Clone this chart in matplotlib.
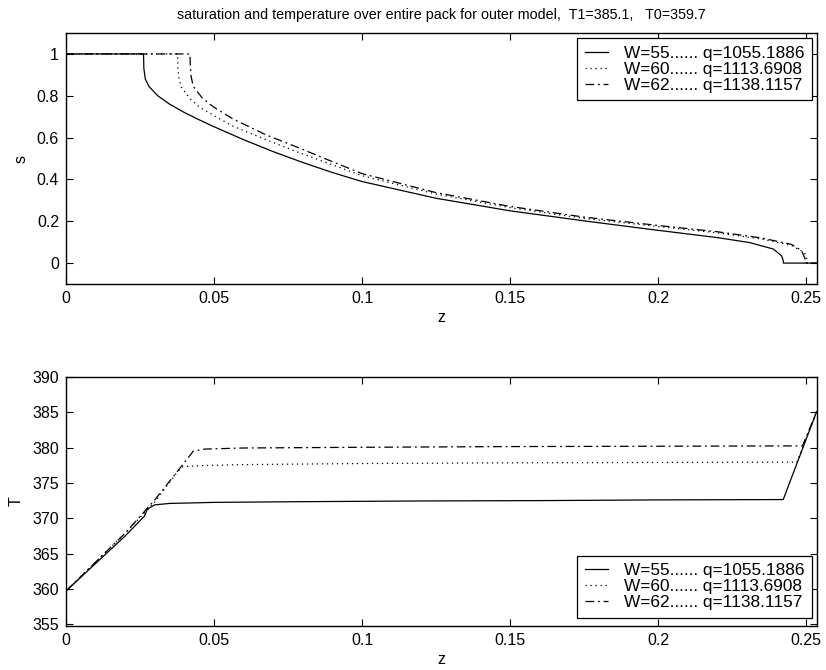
import numpy as np
import matplotlib
matplotlib.use('Agg')
import matplotlib.pyplot as plt

plt.rcParams['font.family'] = ['Liberation Sans', 'DejaVu Sans']
plt.rcParams['font.size'] = 11.5

labels = ['W=55...... q=1055.1886', 'W=60...... q=1113.6908', 'W=62...... q=1138.1157']
title = 'saturation and temperature over entire pack for outer model,  T1=385.1,   T0=359.7'

# saturation s(z)
z_s55 = [0, 0.0262, 0.0263, 0.0268, 0.028, 0.031, 0.035, 0.04, 0.045, 0.05, 0.06, 0.07, 0.08, 0.09, 0.1,
         0.125, 0.15, 0.175, 0.197, 0.22, 0.231, 0.239, 0.2418, 0.2423, 0.2424, 0.2536]
s55 = [1, 1, 0.93, 0.88, 0.845, 0.80, 0.76, 0.72, 0.685, 0.652, 0.59, 0.533, 0.481, 0.433, 0.39,
       0.31, 0.25, 0.202, 0.162, 0.122, 0.098, 0.067, 0.034, 0.012, 0, 0]

z_s60 = [0, 0.0377, 0.0378, 0.0382, 0.039, 0.042, 0.0451, 0.05, 0.0563, 0.0676, 0.0778, 0.09, 0.1, 0.125, 0.15,
         0.175, 0.2, 0.22, 0.235, 0.245, 0.2495, 0.2503, 0.2504, 0.2536]
s60 = [1, 1, 0.93, 0.88, 0.84, 0.785, 0.746, 0.705, 0.655, 0.59, 0.533, 0.47, 0.418, 0.33, 0.265,
       0.214, 0.175, 0.145, 0.115, 0.085, 0.05, 0.02, 0, 0]

z_s62 = [0, 0.0419, 0.042, 0.0423, 0.043, 0.0461, 0.05, 0.0563, 0.0676, 0.0778, 0.09, 0.1, 0.125, 0.15,
         0.175, 0.2, 0.22, 0.235, 0.245, 0.2485, 0.2497, 0.2498, 0.2536]
s62 = [1, 1, 0.94, 0.89, 0.845, 0.788, 0.745, 0.69, 0.613, 0.556, 0.485, 0.428, 0.337, 0.271,
       0.22, 0.18, 0.15, 0.12, 0.09, 0.06, 0.02, 0, 0]

# temperature T(z)
z_T55 = [0, 0.01, 0.02, 0.0265, 0.0275, 0.03, 0.035, 0.05, 0.08, 0.12, 0.16, 0.2, 0.2423, 0.2536]
T55 = [359.7, 363.6, 367.5, 370.3, 371.3, 371.9, 372.1, 372.25, 372.35, 372.45, 372.5, 372.6, 372.65, 385.1]

z_T60 = [0, 0.01, 0.02, 0.03, 0.0375, 0.0395, 0.045, 0.06, 0.1, 0.15, 0.2, 0.2469, 0.2536]
T60 = [359.7, 363.8, 367.9, 372.3, 376.5, 377.3, 377.45, 377.6, 377.75, 377.85, 377.9, 377.95, 385.1]

z_T62 = [0, 0.01, 0.02, 0.03, 0.04, 0.043, 0.047, 0.06, 0.1, 0.15, 0.2, 0.2488, 0.2536]
T62 = [359.7, 363.8, 367.9, 372.6, 377.9, 379.5, 379.8, 379.95, 380.05, 380.15, 380.2, 380.25, 385.1]

styles = [dict(color='black', lw=0.9, ls='-'),
          dict(color='black', lw=0.9, ls=(0, (1, 3))),
          dict(color='black', lw=0.9, ls=(0, (7, 3, 1.5, 3)))]

fig = plt.figure(figsize=(8.26, 6.70), dpi=100)
ax1 = fig.add_axes([0.0799, 0.5761, 0.9088, 0.3746])
ax2 = fig.add_axes([0.0799, 0.0657, 0.9088, 0.3716])

for z, s, st, lab in zip([z_s55, z_s60, z_s62], [s55, s60, s62], styles, labels):
    ax1.plot(z, s, label=lab, **st)
for z, T, st, lab in zip([z_T55, z_T60, z_T62], [T55, T60, T62], styles, labels):
    ax2.plot(z, T, label=lab, **st)

ax1.set_xlim(0, 0.2536)
ax1.set_ylim(-0.1, 1.1)
ax1.set_yticks([0, 0.2, 0.4, 0.6, 0.8, 1])
ax1.set_yticklabels(['0', '0.2', '0.4', '0.6', '0.8', '1'])
ax2.set_xlim(0, 0.2536)
ax2.set_ylim(354.75, 390)
ax2.set_yticks([355, 360, 365, 370, 375, 380, 385, 390])

for ax in (ax1, ax2):
    ax.set_xticks([0, 0.05, 0.1, 0.15, 0.2, 0.25])
    ax.set_xticklabels(['0', '0.05', '0.1', '0.15', '0.2', '0.25'])
    ax.tick_params(direction='in', length=5, width=0.8, top=True, right=True, pad=5)
    for sp in ax.spines.values():
        sp.set_linewidth(1.0)
    ax.set_xlabel('z', labelpad=3)
    if ax is ax1:
        kw = dict(loc='upper right', bbox_to_anchor=(0.994, 0.98))
    else:
        kw = dict(loc='lower right', bbox_to_anchor=(0.994, 0.032))
    leg = ax.legend(fancybox=False, edgecolor='black', framealpha=1, fontsize=12.4,
                    handlelength=1.3, handletextpad=0.95, borderpad=0.45,
                    labelspacing=0.05, borderaxespad=0, **kw)
    leg.get_frame().set_linewidth(0.9)

ax1.set_ylabel('s', labelpad=6)
ax2.set_ylabel('T', labelpad=6)
ax1.set_title(title, fontsize=10.3, pad=10)

fig.savefig('out.png', dpi=100)
